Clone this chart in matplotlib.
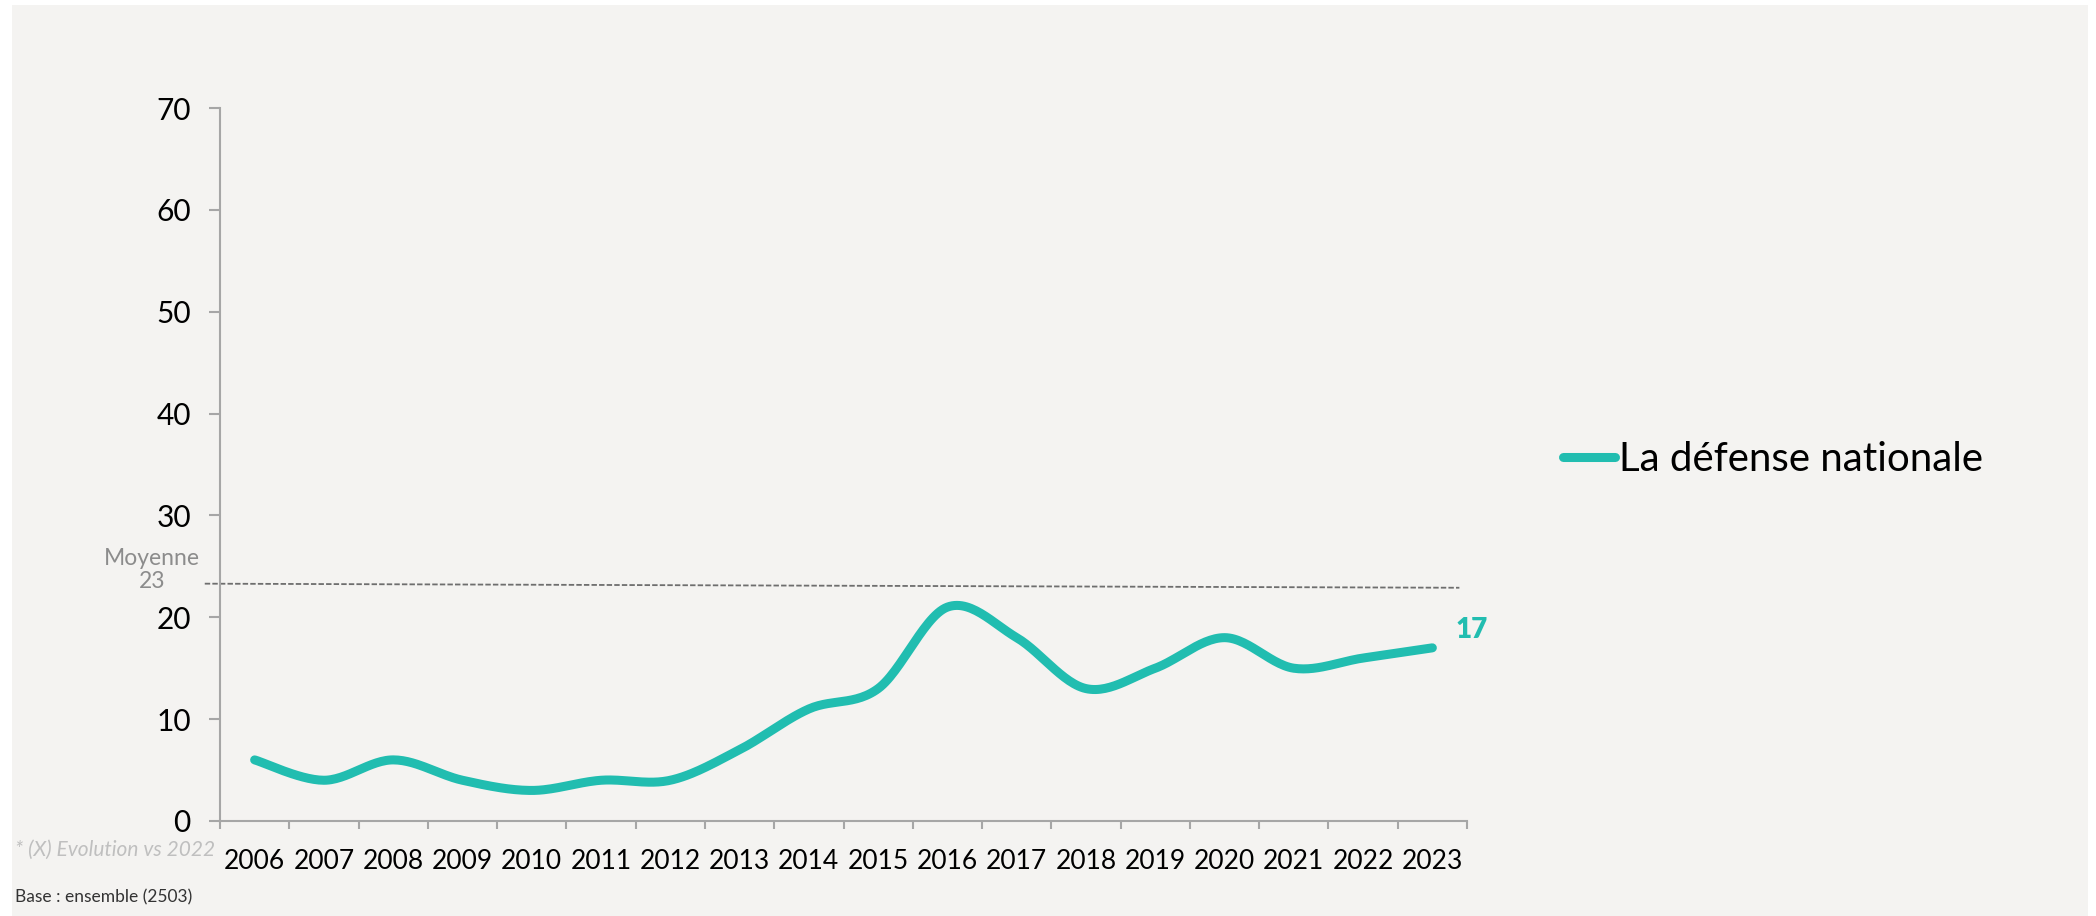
import numpy as np
import matplotlib.pyplot as plt
from matplotlib.lines import Line2D
from matplotlib.patches import Rectangle

annees = ["2006", "2007", "2008", "2009", "2010", "2011", "2012", "2013", "2014",
          "2015", "2016", "2017", "2018", "2019", "2020", "2021", "2022", "2023"]
defense = [6, 4, 6, 4, 3, 4, 4, 7, 11, 13, 21, 18, 13, 15, 18, 15, 16, 17]
moyenne = [23.3, 22.9]   # ligne de moyenne (debut, fin)
serie = "La défense nationale"

teal = "#21BDB0"
fond = "#F4F3F1"
plt.rcParams["font.family"] = ["Lato", "DejaVu Sans"]


def lisse(x, y, n=30):
    # courbe lissée type Excel (Bezier / Catmull-Rom)
    x = np.asarray(x, float)
    y = np.asarray(y, float)
    px = np.concatenate([[x[0]], x, [x[-1]]])
    py = np.concatenate([[y[0]], y, [y[-1]]])
    xs, ys = [], []
    t = np.linspace(0, 1, n)
    for i in range(1, len(px) - 2):
        p0 = np.array([px[i], py[i]])
        p3 = np.array([px[i + 1], py[i + 1]])
        p1 = p0 + (np.array([px[i + 1], py[i + 1]]) - np.array([px[i - 1], py[i - 1]])) / 6
        p2 = p3 - (np.array([px[i + 2], py[i + 2]]) - p0) / 6
        b = ((1 - t) ** 3)[:, None] * p0 + (3 * (1 - t) ** 2 * t)[:, None] * p1 \
            + (3 * (1 - t) * t ** 2)[:, None] * p2 + (t ** 3)[:, None] * p3
        xs.extend(b[:, 0])
        ys.extend(b[:, 1])
    return xs, ys


fig = plt.figure(figsize=(20.96, 9.16), dpi=100)
fig.patch.set_facecolor("white")
fig.patches.append(Rectangle((12 / 2096, 0), 2076 / 2096, 911 / 916,
                             transform=fig.transFigure, facecolor=fond,
                             edgecolor="none", zorder=-10))
ax = fig.add_axes([220 / 2096, 1 - 821 / 916, 1247 / 2096, 713 / 916])
ax.set_facecolor(fond)
ax.patch.set_alpha(0)

x = np.arange(len(annees))
xs, ys = lisse(x, defense)
ax.plot(xs, ys, color=teal, linewidth=6.5, solid_capstyle="round", zorder=3)
ax.plot([-0.72, 17.39], moyenne, color="#6E6E6E", linewidth=1.3,
        linestyle=(0, (3, 1.2)), clip_on=False, zorder=2)

ax.set_xlim(-0.5, len(annees) - 0.5)
ax.set_ylim(0, 70)
ax.set_yticks(range(0, 71, 10))
ax.set_xticks(x)
ax.set_xticklabels(annees)
ax.set_xticks(np.arange(-0.5, len(annees)), minor=True)
ax.tick_params(axis="x", which="major", length=0, pad=20, labelsize=19)
ax.tick_params(axis="x", which="minor", length=6, width=1.5, color="#A6A6A6")
ax.tick_params(axis="y", length=8, width=1.5, color="#A6A6A6", pad=13, labelsize=21.5)
for s in ["top", "right"]:
    ax.spines[s].set_visible(False)
for s in ["left", "bottom"]:
    ax.spines[s].set_color("#A6A6A6")
    ax.spines[s].set_linewidth(1.5)

ax.annotate(str(defense[-1]), (x[-1], defense[-1]), xytext=(17, 13),
            textcoords="offset points", color=teal, fontsize=20,
            fontweight="heavy", ha="left", va="center")

fig.text(152 / 2096, 1 - 570 / 916, "Moyenne\n23", ha="center", va="center",
         fontsize=16.5, color="#8C8C8C", linespacing=1.15)
fig.text(15 / 2096, 1 - 850 / 916, "* (X) Evolution vs 2022", ha="left",
         va="center", fontsize=15, color="#BFBFBF", style="italic")
fig.text(15 / 2096, 1 - 897 / 916, "Base : ensemble (2503)", ha="left",
         va="center", fontsize=12.5, color="#333333")

h = Line2D([], [], color=teal, linewidth=6.5, solid_capstyle="round")
fig.legend(handles=[h], labels=[serie], loc="center left",
           bbox_to_anchor=(1563 / 2096, 1 - 460 / 916), frameon=False,
           fontsize=29, handlelength=1.3, handletextpad=0.1,
           borderpad=0, borderaxespad=0)

plt.savefig("out.png", dpi=100, facecolor=fig.get_facecolor())
